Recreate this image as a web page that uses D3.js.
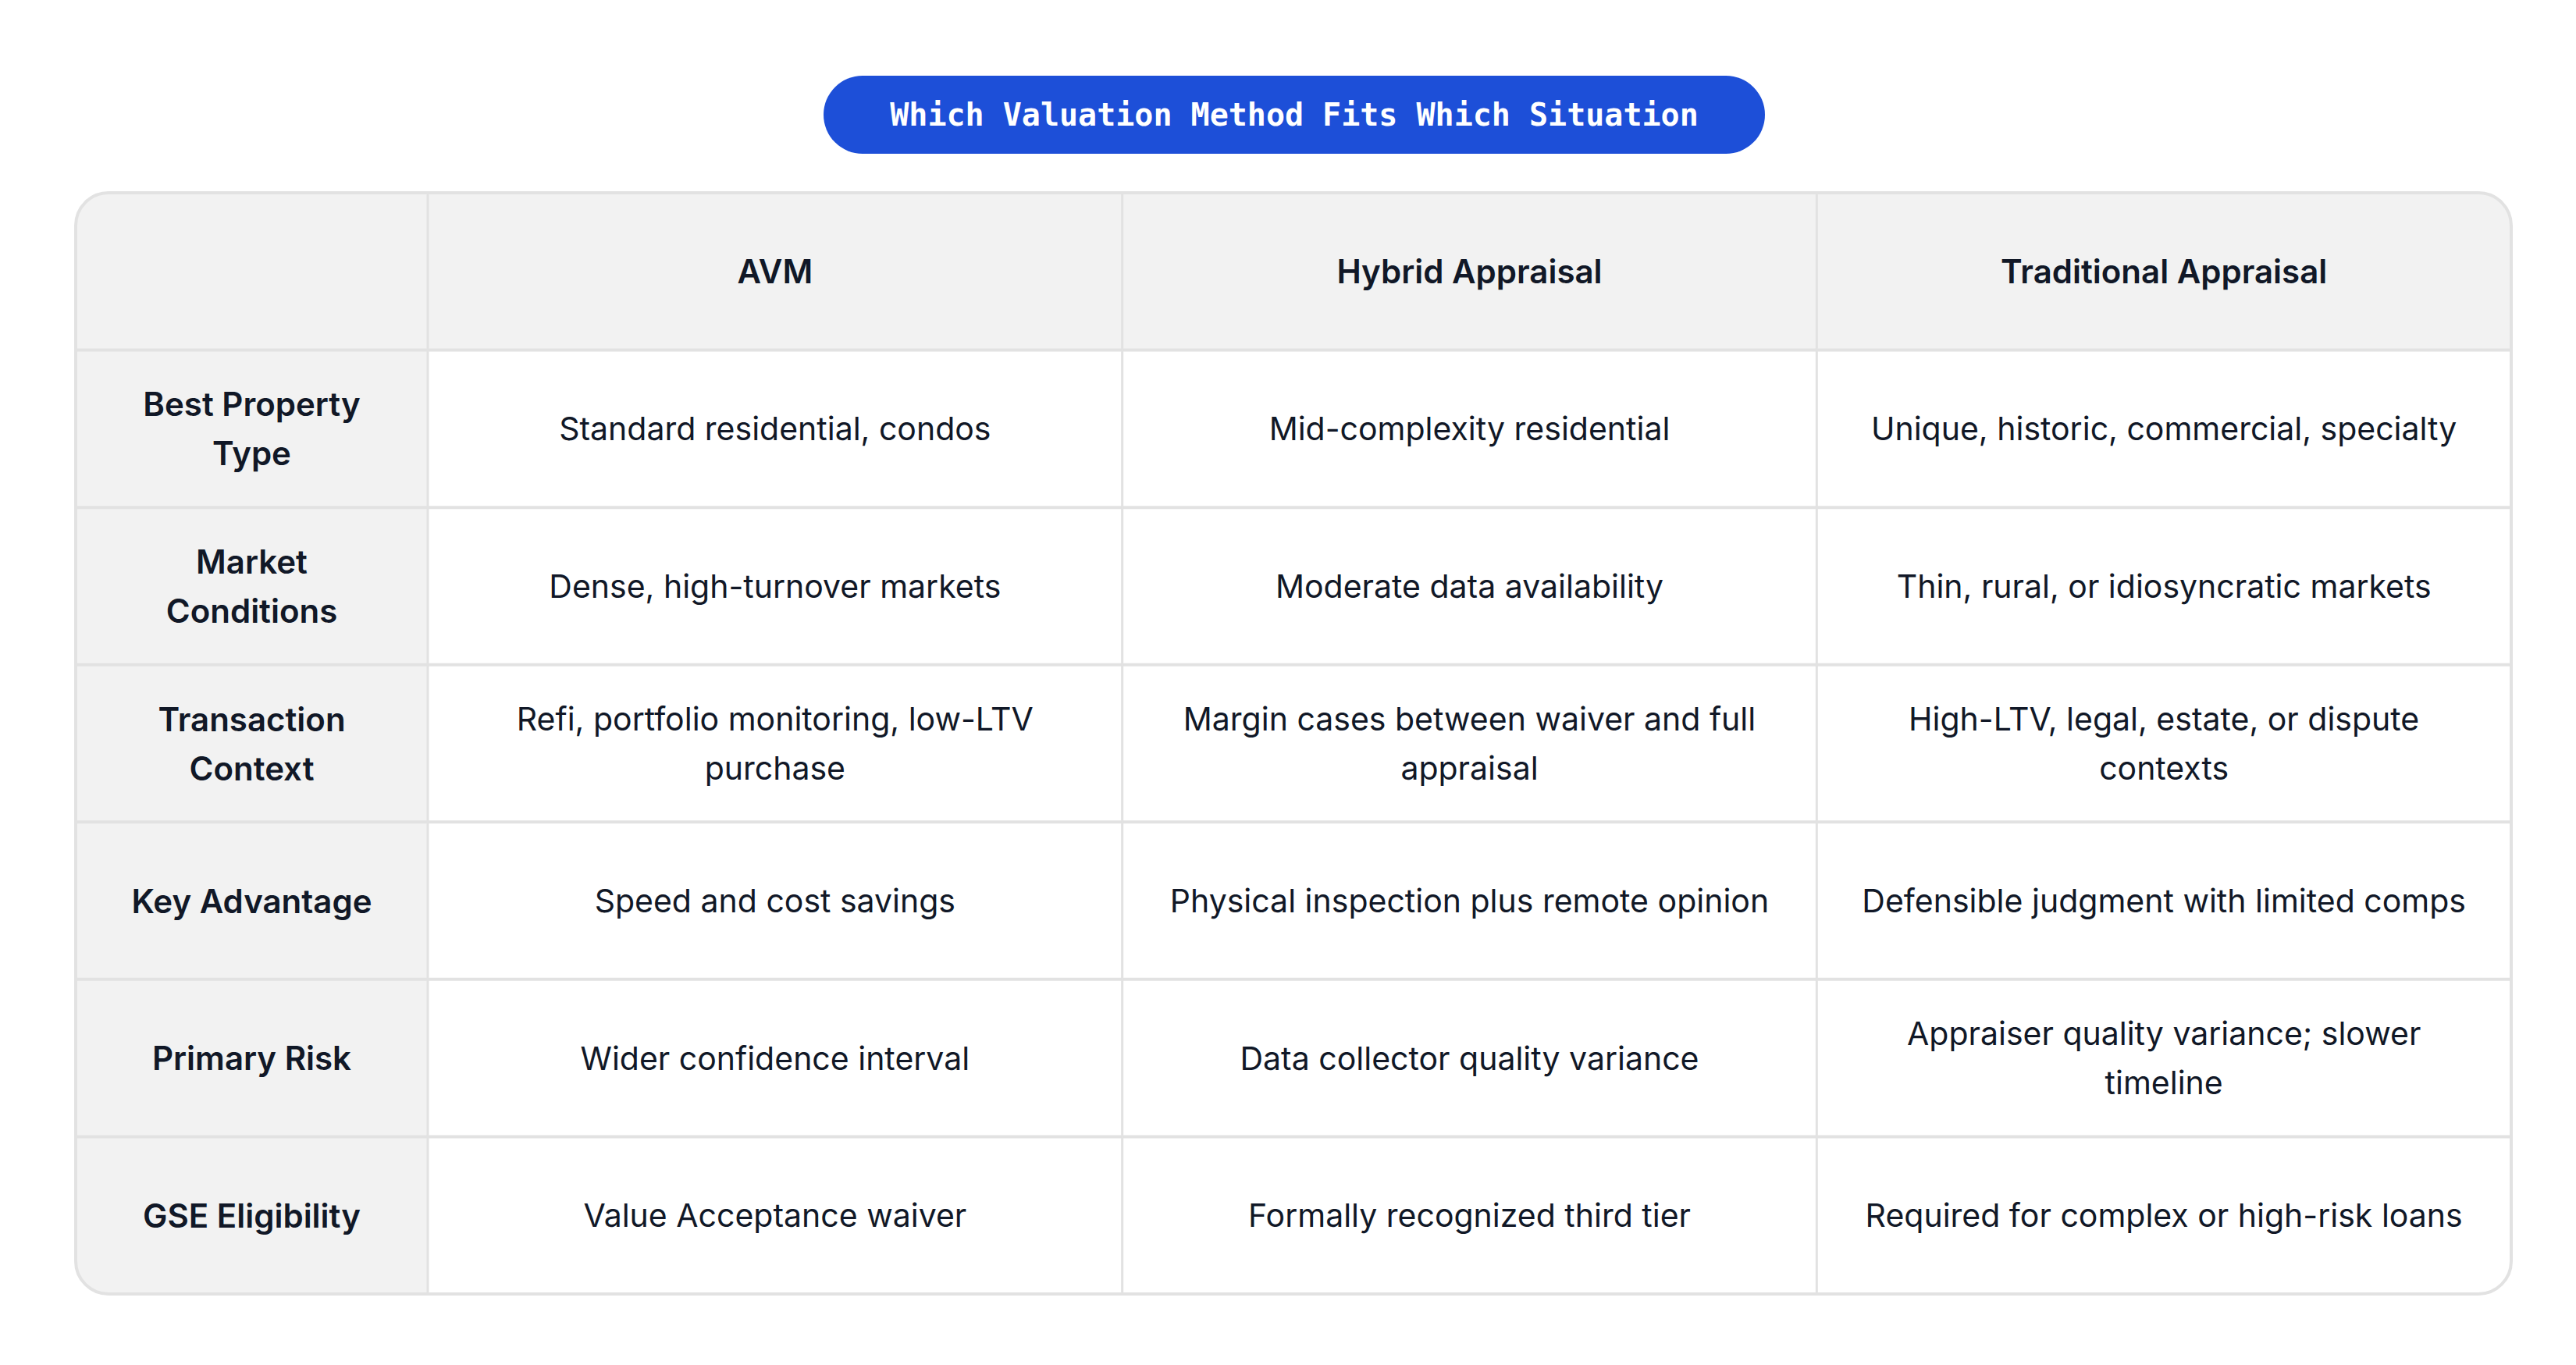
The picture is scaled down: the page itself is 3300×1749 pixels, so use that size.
<!DOCTYPE html>
<html lang="en">
<head>
<meta charset="UTF-8" />
<title>Which Valuation Method Fits Which Situation</title>
<script src="https://d3js.org/d3.v7.min.js"></script>
<style>
  body { margin: 0; background: #fff; }
  svg { display: block; }
</style>
</head>
<body>
<svg width="3300" height="1749"></svg>
<script>
  const title = "Which Valuation Method Fits Which Situation";
  const methods = ["AVM", "Hybrid Appraisal", "Traditional Appraisal"];
  const criteria = ["Best Property\nType", "Market\nConditions", "Transaction\nContext",
                    "Key Advantage", "Primary Risk", "GSE Eligibility"];
  const avm = ["Standard residential, condos", "Dense, high-turnover markets",
               "Refi, portfolio monitoring, low-LTV\npurchase", "Speed and cost savings",
               "Wider confidence interval", "Value Acceptance waiver"];
  const hybrid = ["Mid-complexity residential", "Moderate data availability",
                  "Margin cases between waiver and full\nappraisal", "Physical inspection plus remote opinion",
                  "Data collector quality variance", "Formally recognized third tier"];
  const traditional = ["Unique, historic, commercial, specialty", "Thin, rural, or idiosyncratic markets",
                       "High-LTV, legal, estate, or dispute\ncontexts", "Defensible judgment with limited comps",
                       "Appraiser quality variance; slower\ntimeline", "Required for complex or high-risk loans"];

  const svg = d3.select("svg");
  const ink = "#111827", line = "#e2e2e2", shade = "#f2f2f2";
  const font = "Inter, 'Noto Sans', sans-serif";

  // titre en pilule
  const pill = {x: 1055, y: 97, w: 1206, h: 100};
  svg.append("rect").attr("x", pill.x).attr("y", pill.y).attr("width", pill.w).attr("height", pill.h)
    .attr("rx", pill.h / 2).attr("fill", "#1d4fd8");
  svg.append("text").attr("x", pill.x + pill.w / 2).attr("y", pill.y + pill.h / 2)
    .attr("text-anchor", "middle").attr("dominant-baseline", "central")
    .attr("fill", "#fff").style("font-family", "'DejaVu Sans Mono', monospace")
    .style("font-weight", "bold").style("font-size", "40px").text(title);

  // grille
  const tLeft = 97, tRight = 3217, tTop = 247, tBottom = 1658, firstW = 451;
  const x = d3.scaleBand().domain(methods).range([tLeft + firstW, tRight]);
  const rowKeys = ["header"].concat(criteria);
  const y = d3.scaleBand().domain(rowKeys).range([tTop, tBottom]);

  const clip = svg.append("defs").append("clipPath").attr("id", "card");
  clip.append("rect").attr("x", tLeft).attr("y", tTop).attr("width", tRight - tLeft)
    .attr("height", tBottom - tTop).attr("rx", 42);

  const g = svg.append("g").attr("clip-path", "url(#card)");
  g.append("rect").attr("x", tLeft).attr("y", tTop).attr("width", tRight - tLeft)
    .attr("height", tBottom - tTop).attr("fill", "#fff");
  g.append("rect").attr("x", tLeft).attr("y", tTop).attr("width", tRight - tLeft)
    .attr("height", y.bandwidth()).attr("fill", shade);
  g.append("rect").attr("x", tLeft).attr("y", tTop).attr("width", firstW)
    .attr("height", tBottom - tTop).attr("fill", shade);

  // lignes
  g.selectAll(".hline").data(criteria).enter().append("line")
    .attr("x1", tLeft).attr("x2", tRight)
    .attr("y1", d => y(d)).attr("y2", d => y(d))
    .attr("stroke", line).attr("stroke-width", 4);
  g.selectAll(".vline").data(methods).enter().append("line")
    .attr("y1", tTop).attr("y2", tBottom)
    .attr("x1", d => x(d)).attr("x2", d => x(d))
    .attr("stroke", line).attr("stroke-width", 3);
  svg.append("rect").attr("x", tLeft).attr("y", tTop).attr("width", tRight - tLeft)
    .attr("height", tBottom - tTop).attr("rx", 42)
    .attr("fill", "none").attr("stroke", line).attr("stroke-width", 4);

  function cellText(cx, cy, txt, bold) {
    const lines = txt.split("\n");
    const lh = 63;
    const t = svg.append("text").attr("text-anchor", "middle").attr("fill", ink)
      .style("font-family", font).style("font-size", bold ? "42px" : "41px")
      .style("font-weight", bold ? 600 : 400);
    lines.forEach((l, i) => {
      t.append("tspan").attr("x", cx)
        .attr("y", cy + (i - (lines.length - 1) / 2) * lh)
        .attr("dominant-baseline", "central").text(l);
    });
  }

  methods.forEach(m => cellText(x(m) + x.bandwidth() / 2, y("header") + y.bandwidth() / 2, m, true));
  const cols = [avm, hybrid, traditional];
  criteria.forEach((c, i) => {
    const cy = y(c) + y.bandwidth() / 2;
    cellText(tLeft + firstW / 2, cy, c, true);
    cols.forEach((col, j) => cellText(x(methods[j]) + x.bandwidth() / 2, cy, col[i], false));
  });
</script>
</body>
</html>
